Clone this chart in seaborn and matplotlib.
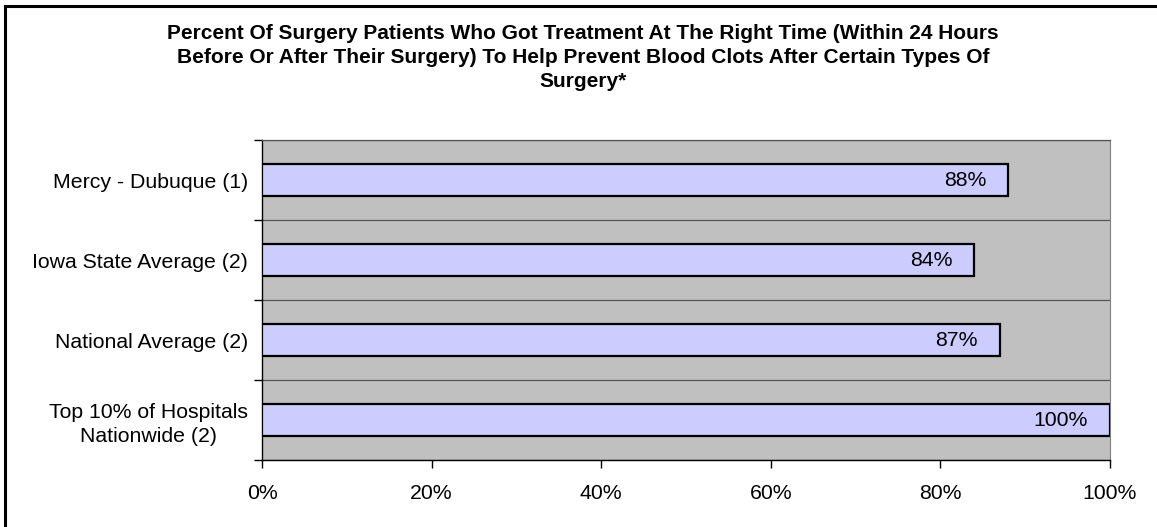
"""
Horizontal bar chart: surgery patients receiving timely blood clot prevention
"""

import numpy as np
import pandas as pd
import matplotlib
matplotlib.use("Agg")
import matplotlib.pyplot as plt
import seaborn as sns
from matplotlib.ticker import FixedLocator, PercentFormatter

categories = [
    "Mercy - Dubuque (1)",
    "Iowa State Average (2)",
    "National Average (2)",
    "Top 10% of Hospitals\nNationwide (2)",
]
values = [88, 84, 87, 100]
value_labels = ["88%", "84%", "87%", "100%"]
x_ticks = [0, 20, 40, 60, 80, 100]

title = ("Percent Of Surgery Patients Who Got Treatment At The Right Time (Within 24 Hours\n"
         "Before Or After Their Surgery) To Help Prevent Blood Clots After Certain Types Of\n"
         "Surgery*")

FS = 15.3

sns.set_style("white")
plt.rcParams['font.family'] = ['Liberation Sans', 'DejaVu Sans']
plt.rcParams['text.color'] = 'black'
plt.rcParams['xtick.color'] = 'black'
plt.rcParams['ytick.color'] = 'black'

df = pd.DataFrame({'category': categories, 'value': values})

fig = plt.figure(figsize=(11.57, 5.27), dpi=100)
ax = fig.add_axes([262 / 1157, 1 - 460 / 527, 848 / 1157, 320 / 527])
ax.set_facecolor('#C0C0C0')

sns.barplot(data=df, x='value', y='category', orient='h', color='#CCCCFF',
            saturation=1, edgecolor='black', linewidth=1.6, width=0.39, ax=ax,
            zorder=3)

ax.set_xlim(0, 100)
ax.set_ylim(len(categories) - 0.5, -0.5)
ax.xaxis.set_major_locator(FixedLocator(x_ticks))
ax.xaxis.set_major_formatter(PercentFormatter(decimals=0))

# category boundaries: ticks + gridlines, labels sit in between
ax.set_yticks(np.arange(-0.5, len(categories), 1.0))
ax.set_yticklabels([])
ax.set_yticks(np.arange(len(categories)), minor=True)
ax.set_yticklabels(categories, minor=True, multialignment='center', linespacing=1.35)
ax.tick_params(axis='y', which='major', length=6, width=1, direction='out', left=True)
ax.tick_params(axis='y', which='minor', length=0, pad=10, labelsize=FS)
ax.tick_params(axis='x', length=6, width=1, direction='out', bottom=True,
               pad=11, labelsize=FS)
ax.yaxis.grid(True, which='major', color='#555555', linewidth=0.9, zorder=1)
ax.set_axisbelow(True)
ax.set_xlabel('')
ax.set_ylabel('')

for side in ['left', 'bottom']:
    ax.spines[side].set_color('black')
    ax.spines[side].set_linewidth(1.0)
ax.spines['right'].set_color('#808080')
ax.spines['top'].set_color('#555555')
ax.spines['top'].set_linewidth(0.9)

for i, (v, lab) in enumerate(zip(values, value_labels)):
    ax.annotate(lab, xy=(v, i), xytext=(-22, 0), textcoords='offset pixels',
                ha='right', va='center', fontsize=FS, zorder=4)

fig.text(0.504, 1 - 24 / 527, title, ha='center', va='top', fontsize=15.0,
         fontweight='bold', linespacing=1.33)

# outer frame (only left/top edges show in the original)
fig.patches.append(plt.Rectangle((4.5 / 1157, -0.05), 1.2, 1 - 6 / 527 + 0.05,
                                 transform=fig.transFigure, fill=False,
                                 edgecolor='black', linewidth=2.2))

fig.savefig('out.png', dpi=100)
